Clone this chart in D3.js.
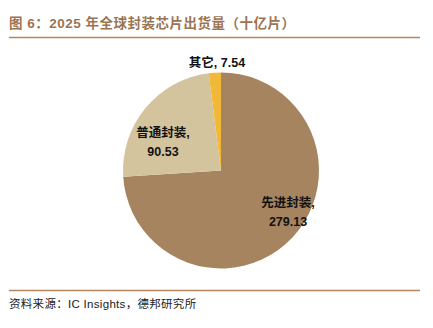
<!DOCTYPE html>
<html>
<head>
<meta charset="utf-8">
<script src="https://cdn.jsdelivr.net/npm/d3@7"></script>
<style>
  html, body { margin: 0; padding: 0; background: #fff; }
  svg { display: block; }
</style>
</head>
<body>
<svg id="chart" width="433" height="328"></svg>
<script>
// Packaging chip shipments, 2025 (billions of units)
const categories = ["先进封装", "普通封装", "其它"];
const values = [279.13, 90.53, 7.54];
const colors = ["#A6845F", "#D4C49E", "#F2B838"];

const svg = d3.select("#chart");
const cx = 221, cy = 170.5, r = 98;
const mixedFont = "'Liberation Sans', 'Noto Sans CJK SC', sans-serif";

// Title and rules
svg.append("text")
  .attr("x", 9).attr("y", 28)
  .attr("fill", "#9B7452")
  .attr("font-family", mixedFont)
  .attr("font-size", 13.5).attr("font-weight", "bold")
  .attr("letter-spacing", 0.5)
  .text("图 6：2025 年全球封装芯片出货量（十亿片）");
svg.append("line").attr("x1", 9).attr("x2", 420).attr("y1", 37.5).attr("y2", 37.5)
  .attr("stroke", "#B88762").attr("stroke-width", 1.6);
svg.append("line").attr("x1", 9).attr("x2", 420).attr("y1", 290.5).attr("y2", 290.5)
  .attr("stroke", "#B88762").attr("stroke-width", 1.6);
svg.append("text")
  .attr("x", 9).attr("y", 308)
  .attr("fill", "#222")
  .attr("font-family", mixedFont)
  .attr("font-size", 11.5)
  .attr("letter-spacing", 0.3)
  .text("资料来源：IC Insights，德邦研究所");

// Pie
const data = categories.map((c, i) => ({ name: c, value: values[i], color: colors[i] }));
const pie = d3.pie().value(d => d.value).sort(null);
const arc = d3.arc().innerRadius(0).outerRadius(r);
const g = svg.append("g").attr("transform", `translate(${cx},${cy})`);
g.selectAll("path").data(pie(data)).join("path")
  .attr("d", arc)
  .attr("fill", d => d.data.color);

// Labels
const labelPos = [
  { lines: [categories[0] + ",", values[0].toFixed(2)], x: 288, y: [207, 226] },
  { lines: [categories[1] + ",", values[1].toFixed(2)], x: 163, y: [137, 156] },
  { lines: [categories[2] + ", " + values[2].toFixed(2)], x: 217, y: [67] }
];
labelPos.forEach(lp => {
  lp.lines.forEach((t, i) => {
    svg.append("text")
      .attr("x", lp.x).attr("y", lp.y[i])
      .attr("text-anchor", "middle")
      .attr("font-family", mixedFont)
      .attr("font-size", 12.5).attr("font-weight", "bold")
      .attr("fill", "#111")
      .text(t);
  });
});
</script>
</body>
</html>
